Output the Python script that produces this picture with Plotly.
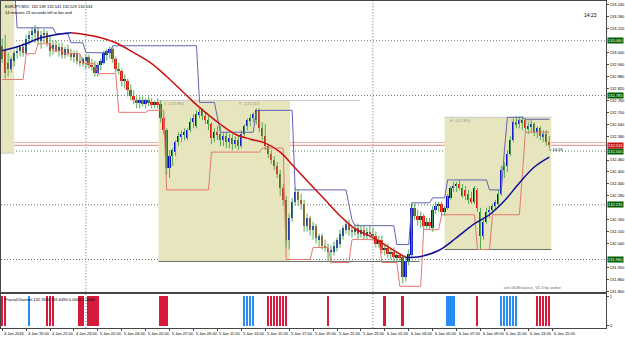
import plotly.graph_objects as go

# ---------------- data ----------------
title_line1 = "EURJPY,M15  132.539 132.541 132.529 132.534"
title_line2 = "14 minutes 23 seconds left to bar end"
timer_text = "14:23"
ea_text = "ant-GUBreakout_V2.4 by andee"
sub_label = "FractalChannel 132.7600 131.6490 0.0000 1.0000"

opens = [133.035, 133.01, 132.95, 132.92, 132.96, 133.00, 133.01, 133.03, 133.00, 133.07,
         133.09, 133.10, 133.11, 133.06, 133.09, 133.10, 133.05, 133.02, 133.04, 133.01,
         133.03, 132.99, 133.02, 133.00, 132.98, 133.00, 132.96, 132.95, 132.96, 132.98,
         132.94, 132.93, 132.90, 132.94, 132.95, 132.99, 133.00, 133.02, 132.97, 132.92,
         132.91, 132.86, 132.86, 132.81, 132.78, 132.76, 132.75, 132.76, 132.74, 132.76,
         132.75, 132.74, 132.75, 132.74, 132.67, 132.61, 132.42, 132.48, 132.50, 132.55,
         132.58, 132.59, 132.57, 132.61, 132.65, 132.63, 132.69, 132.71, 132.68, 132.66,
         132.64, 132.57, 132.60, 132.59, 132.56, 132.58, 132.55, 132.57, 132.54, 132.56,
         132.53, 132.59, 132.63, 132.66, 132.67, 132.66, 132.71, 132.62, 132.58, 132.53,
         132.49, 132.46, 132.43, 132.39, 132.32, 132.26, 132.06, 132.17, 132.25, 132.30,
         132.26, 132.24, 132.13, 132.17, 132.11, 132.13, 132.06, 132.08, 132.03, 132.02,
         132.00, 132.00, 132.02, 132.04, 132.08, 132.11, 132.14, 132.11, 132.10, 132.12,
         132.09, 132.11, 132.08, 132.10, 132.09, 132.08, 132.04, 132.06, 132.01, 132.02,
         131.99, 132.00, 131.97, 131.98, 131.97, 131.87, 131.95, 131.98, 132.22, 132.18,
         132.16, 132.18, 132.13, 132.15, 132.12, 132.21, 132.23, 132.24, 132.20, 132.22,
         132.27, 132.32, 132.33, 132.34, 132.32, 132.31, 132.29, 132.27, 132.25, 132.31,
         132.20, 132.08, 132.15, 132.20, 132.21, 132.23, 132.24, 132.29, 132.41, 132.43,
         132.49, 132.56, 132.65, 132.64, 132.65, 132.66, 132.62, 132.63, 132.64, 132.60,
         132.62, 132.58, 132.59, 132.55]
highs = [133.07, 133.09, 133.00, 132.98, 133.01, 133.03, 133.04, 133.05, 133.09, 133.11,
         133.13, 133.14, 133.13, 133.11, 133.12, 133.11, 133.09, 133.06, 133.06, 133.05,
         133.05, 133.03, 133.04, 133.02, 133.01, 133.01, 132.99, 132.98, 132.99, 132.99,
         132.97, 132.96, 132.95, 132.97, 133.01, 133.02, 133.03, 133.03, 132.98, 132.95,
         132.92, 132.89, 132.87, 132.84, 132.81, 132.78, 132.78, 132.78, 132.77, 132.78,
         132.77, 132.76, 132.77, 132.76, 132.70, 132.62, 132.51, 132.52, 132.56, 132.60,
         132.61, 132.62, 132.62, 132.67, 132.69, 132.71, 132.72, 132.72, 132.70, 132.68,
         132.65, 132.62, 132.63, 132.63, 132.60, 132.60, 132.59, 132.59, 132.58, 132.58,
         132.61, 132.64, 132.67, 132.69, 132.70, 132.72, 132.72, 132.65, 132.64, 132.54,
         132.51, 132.48, 132.45, 132.41, 132.34, 132.28, 132.19, 132.27, 132.32, 132.31,
         132.29, 132.26, 132.19, 132.18, 132.15, 132.14, 132.09, 132.09, 132.06, 132.04,
         132.03, 132.05, 132.07, 132.11, 132.13, 132.16, 132.16, 132.13, 132.14, 132.14,
         132.13, 132.13, 132.12, 132.13, 132.12, 132.10, 132.08, 132.08, 132.04, 132.04,
         132.02, 132.02, 132.00, 131.99, 131.98, 131.98, 132.01, 132.24, 132.24, 132.21,
         132.20, 132.19, 132.17, 132.17, 132.23, 132.25, 132.25, 132.25, 132.23, 132.29,
         132.33, 132.35, 132.35, 132.36, 132.34, 132.33, 132.31, 132.30, 132.33, 132.32,
         132.22, 132.16, 132.22, 132.23, 132.24, 132.26, 132.31, 132.43, 132.45, 132.51,
         132.58, 132.67, 132.68, 132.68, 132.68, 132.67, 132.65, 132.66, 132.65, 132.63,
         132.63, 132.61, 132.61, 132.58]
lows = [132.95, 132.87, 132.88, 132.90, 132.93, 132.97, 132.98, 132.98, 132.99, 133.04,
        133.06, 133.05, 133.04, 133.02, 133.05, 133.03, 132.98, 132.99, 133.00, 132.98,
        132.97, 132.97, 132.98, 132.96, 132.95, 132.94, 132.93, 132.93, 132.92, 132.92,
        132.91, 132.88, 132.88, 132.91, 132.94, 132.96, 132.97, 132.95, 132.90, 132.89,
        132.83, 132.82, 132.78, 132.76, 132.74, 132.72, 132.72, 132.73, 132.72, 132.73,
        132.72, 132.72, 132.72, 132.65, 132.59, 132.385, 132.37, 132.43, 132.48, 132.53,
        132.55, 132.56, 132.56, 132.60, 132.62, 132.62, 132.67, 132.66, 132.64, 132.61,
        132.54, 132.55, 132.56, 132.53, 132.53, 132.52, 132.52, 132.51, 132.52, 132.51,
        132.52, 132.58, 132.61, 132.63, 132.65, 132.64, 132.60, 132.56, 132.51, 132.47,
        132.44, 132.41, 132.37, 132.28, 132.23, 132.02, 132.01, 132.15, 132.23, 132.23,
        132.21, 132.10, 132.10, 132.08, 132.06, 132.04, 132.02, 132.01, 132.00, 131.95,
        131.94, 131.98, 132.00, 132.02, 132.06, 132.09, 132.08, 132.07, 132.08, 132.06,
        132.07, 132.06, 132.06, 132.07, 132.06, 132.02, 132.02, 131.99, 131.98, 131.97,
        131.96, 131.95, 131.94, 131.95, 131.84, 131.85, 131.93, 131.97, 132.16, 132.13,
        132.12, 132.11, 132.11, 132.11, 132.10, 132.19, 132.20, 132.18, 132.18, 132.21,
        132.26, 132.30, 132.30, 132.31, 132.27, 132.26, 132.24, 132.24, 132.24, 132.20,
        132.01, 132.06, 132.14, 132.17, 132.19, 132.21, 132.23, 132.28, 132.37, 132.40,
        132.48, 132.55, 132.62, 132.62, 132.61, 132.60, 132.59, 132.60, 132.58, 132.57,
        132.56, 132.55, 132.53, 132.52]
closes = [132.97, 132.90, 132.92, 132.97, 133.00, 133.01, 133.03, 133.00, 133.07, 133.09,
          133.11, 133.12, 133.06, 133.09, 133.10, 133.05, 133.01, 133.04, 133.01, 133.03,
          132.99, 133.02, 133.00, 132.98, 133.00, 132.96, 132.95, 132.97, 132.98, 132.94,
          132.93, 132.90, 132.94, 132.96, 133.00, 133.01, 133.02, 132.97, 132.92, 132.91,
          132.86, 132.87, 132.81, 132.78, 132.76, 132.75, 132.76, 132.74, 132.76, 132.75,
          132.74, 132.75, 132.74, 132.67, 132.61, 132.42, 132.48, 132.51, 132.55, 132.58,
          132.59, 132.60, 132.61, 132.65, 132.67, 132.69, 132.70, 132.68, 132.66, 132.64,
          132.57, 132.60, 132.59, 132.56, 132.58, 132.55, 132.57, 132.54, 132.56, 132.53,
          132.59, 132.63, 132.66, 132.67, 132.69, 132.71, 132.62, 132.58, 132.53, 132.49,
          132.46, 132.43, 132.39, 132.32, 132.26, 132.06, 132.17, 132.25, 132.30, 132.26,
          132.24, 132.13, 132.17, 132.11, 132.13, 132.07, 132.08, 132.03, 132.02, 132.00,
          132.01, 132.03, 132.06, 132.09, 132.12, 132.14, 132.11, 132.10, 132.12, 132.09,
          132.11, 132.08, 132.10, 132.09, 132.08, 132.04, 132.06, 132.01, 132.02, 131.99,
          132.00, 131.97, 131.98, 131.97, 131.87, 131.95, 131.99, 132.22, 132.18, 132.16,
          132.18, 132.13, 132.15, 132.13, 132.21, 132.23, 132.24, 132.20, 132.22, 132.28,
          132.32, 132.33, 132.34, 132.32, 132.28, 132.28, 132.26, 132.25, 132.32, 132.22,
          132.08, 132.15, 132.20, 132.21, 132.23, 132.25, 132.29, 132.41, 132.43, 132.49,
          132.56, 132.65, 132.64, 132.66, 132.66, 132.62, 132.63, 132.64, 132.60, 132.62,
          132.58, 132.59, 132.55, 132.534]

# x-axis labels (every 8 bars of M15 = 2 hours)
xlabel_bars = [0, 8, 16, 24, 32, 40, 48, 56, 64, 72, 80, 88, 96, 104, 112, 120,
               128, 136, 144, 152, 160, 168, 176, 184]
xlabels = ["4 Jan 2016", "4 Jan 19:00", "4 Jan 21:00", "4 Jan 23:00", "5 Jan 01:00",
           "5 Jan 03:00", "5 Jan 05:00", "5 Jan 07:00", "5 Jan 09:00", "5 Jan 11:00",
           "5 Jan 13:00", "5 Jan 15:00", "5 Jan 17:00", "5 Jan 19:00", "5 Jan 21:00",
           "5 Jan 23:00", "6 Jan 01:00", "6 Jan 03:00", "6 Jan 05:00", "6 Jan 07:00",
           "6 Jan 09:00", "6 Jan 11:00", "6 Jan 13:00", "6 Jan 15:00"]
day_separator_bars = [28, 124]

# price-axis labels
price_ticks = [133.24, 133.18, 133.12, 133.00, 132.94, 132.88, 132.82, 132.76, 132.70,
               132.64, 132.58, 132.46, 132.40, 132.34, 132.28, 132.16, 132.10, 132.04,
               131.92, 131.86, 131.80]

# moving average, coloured by slope
ma_up1_bars = [0, 4, 8, 12, 16, 20, 23]
ma_up1_vals = [133.01, 133.025, 133.045, 133.07, 133.085, 133.095, 133.10]
ma_down_bars = [23, 28, 33, 38, 44, 50, 55, 61, 66, 73, 78, 83, 88, 93, 98, 103, 108,
                113, 118, 124, 130, 135]
ma_down_vals = [133.10, 133.09, 133.075, 133.05, 133.00, 132.945, 132.88, 132.795,
                132.725, 132.64, 132.59, 132.565, 132.545, 132.50, 132.42, 132.34,
                132.26, 132.18, 132.115, 132.07, 132.015, 131.97]
ma_up2_bars = [135, 140, 146, 152, 158, 163, 168, 173, 178, 183]
ma_up2_vals = [131.97, 131.975, 132.005, 132.07, 132.14, 132.185, 132.255, 132.345,
               132.425, 132.475]

# fractal channel runs: (first bar, last bar, level)
upper_runs = [(0, 4, 133.36), (5, 17, 133.125), (18, 22, 133.095), (23, 27, 133.05),
              (28, 36, 133.00), (37, 65, 133.035), (66, 71, 132.75), (72, 72, 132.675),
              (73, 84, 132.60), (85, 97, 132.71), (98, 115, 132.31), (116, 116, 132.235),
              (117, 117, 132.16), (118, 131, 132.13), (132, 136, 132.035),
              (137, 143, 132.245), (144, 148, 132.27), (149, 162, 132.36),
              (163, 167, 132.31), (168, 168, 132.51), (169, 174, 132.675),
              (175, 183, 132.665)]
lower_runs = [(0, 7, 132.865), (8, 11, 132.995), (12, 16, 133.045), (17, 20, 133.01),
              (21, 26, 132.995), (27, 31, 132.945), (32, 38, 132.895), (39, 48, 132.70),
              (49, 54, 132.71), (55, 69, 132.31), (70, 86, 132.50), (87, 94, 132.52),
              (95, 103, 131.96), (104, 109, 132.02), (110, 116, 131.945),
              (117, 126, 132.06), (127, 132, 131.945), (133, 140, 131.825),
              (141, 146, 132.11), (147, 158, 132.185), (159, 163, 132.01),
              (164, 173, 132.185), (174, 174, 132.385), (175, 183, 132.60)]

# breakout boxes
box_first = [-0.4, 52.3, 148.0]
box_last = [4.0, 96.3, 183.7]
box_high = [133.30, 132.76, 132.675]
box_low = [132.495, 131.95, 132.01]
box_top_ext = [24.7, 119.7, 183.7]
box_bot_ext = [4.0, 139.7, 183.7]
box_labels = [("", ""), ("1 : (132.980)", "R : (132.413)"), ("H : (132.895)", "L : (132.570)")]

pivot_levels = [133.06, 132.785, 132.505, 132.235, 131.96]
bid_price = 132.534
ask_price = 132.548

# lower sub-window signals
red_signal_bars = [0, 1, 15, 16, 17, 26, 27, 29, 30, 31, 32, 53, 54, 55, 89, 90, 91, 92,
                   93, 94, 95, 109, 128, 134, 159, 179, 180, 181, 182, 183]
blue_signal_bars = [9, 81, 82, 83, 84, 149, 150, 151, 167, 168, 169, 170, 171, 172]

# ---------------- figure ----------------
W, H = 625, 340
XDOM = 607 / W
main_dom = [1 - 293 / H, 1]
sub_dom = [1 - 329 / H, 1 - 295 / H]
XR = [-0.4, 202]
YR = [131.795, 133.26]
FONT = "Liberation Sans"

BULL = "rgb(10,10,215)"
BEAR = "rgb(235,20,20)"
WICK = "rgb(80,170,80)"

fig = go.Figure()

n = len(closes)
bars = list(range(n))

# wicks
wx, wy = [], []
for i in bars:
    wx += [i, i, None]
    wy += [lows[i], highs[i], None]
fig.add_trace(go.Scatter(x=wx, y=wy, mode="lines", line=dict(color=WICK, width=1),
                         hoverinfo="skip", showlegend=False, xaxis="x", yaxis="y"))

# bodies
body_base = [min(o, c) for o, c in zip(opens, closes)]
body_h = [max(abs(c - o), 0.004) for o, c in zip(opens, closes)]
body_col = [BULL if c >= o else BEAR for o, c in zip(opens, closes)]
fig.add_trace(go.Bar(x=bars, y=body_h, base=body_base, width=0.6,
                     marker=dict(color=body_col, line=dict(width=0)),
                     showlegend=False, xaxis="x", yaxis="y"))

# channels
def runs_to_xy(runs):
    xs, ys = [], []
    for a, b, v in runs:
        xs += [a, b]
        ys += [v, v]
    return xs, ys

ux, uy = runs_to_xy(upper_runs)
lx, ly = runs_to_xy(lower_runs)
fig.add_trace(go.Scatter(x=ux, y=uy, mode="lines", line=dict(color="rgb(100,100,180)", width=1),
                         showlegend=False, xaxis="x", yaxis="y"))
fig.add_trace(go.Scatter(x=lx, y=ly, mode="lines", line=dict(color="rgb(228,120,110)", width=1),
                         showlegend=False, xaxis="x", yaxis="y"))

# moving average
for bx, vals, col in [(ma_up1_bars, ma_up1_vals, "rgb(15,15,150)"),
                      (ma_down_bars, ma_down_vals, "rgb(205,15,15)"),
                      (ma_up2_bars, ma_up2_vals, "rgb(15,15,150)")]:
    fig.add_trace(go.Scatter(x=bx, y=vals, mode="lines", line=dict(color=col, width=1.5, shape="spline"),
                             showlegend=False, xaxis="x", yaxis="y"))

# sub-window histogram
fig.add_trace(go.Bar(x=red_signal_bars, y=[1] * len(red_signal_bars), width=0.62,
                     marker=dict(color="rgb(215,25,60)", line=dict(width=0)),
                     showlegend=False, xaxis="x2", yaxis="y2"))
fig.add_trace(go.Bar(x=blue_signal_bars, y=[1] * len(blue_signal_bars), width=0.62,
                     marker=dict(color="rgb(40,140,240)", line=dict(width=0)),
                     showlegend=False, xaxis="x2", yaxis="y2"))

DOT = "1px,2px"
shapes = []
BEIGE = "rgb(231,229,190)"
for k in range(len(box_first)):
    shapes.append(dict(type="rect", xref="x", yref="y", x0=box_first[k], x1=box_last[k],
                       y0=box_low[k], y1=box_high[k], fillcolor=BEIGE, line=dict(width=0),
                       layer="below"))
    shapes.append(dict(type="line", xref="x", yref="y", x0=box_first[k], x1=box_top_ext[k],
                       y0=box_high[k], y1=box_high[k], line=dict(color="rgb(200,200,200)", width=1),
                       layer="below"))
    shapes.append(dict(type="line", xref="x", yref="y", x0=box_first[k], x1=box_bot_ext[k],
                       y0=box_low[k], y1=box_low[k],
                       line=dict(color="rgb(110,110,110)" if k else "rgb(200,200,200)", width=1),
                       layer="below"))
for lv in pivot_levels:
    shapes.append(dict(type="line", xref="paper", yref="y", x0=0, x1=XDOM, y0=lv, y1=lv,
                       line=dict(color="rgb(90,125,90)", width=1, dash=DOT), layer="below"))
for sb in day_separator_bars:
    for ya in ["y", "y2"]:
        shapes.append(dict(type="line", xref="x", yref=ya + " domain", x0=sb, x1=sb, y0=0, y1=1,
                           line=dict(color="rgb(110,110,110)", width=1, dash=DOT), layer="below"))
for pr, col in [(ask_price, "rgb(242,175,175)"), (bid_price, "rgb(235,140,140)")]:
    shapes.append(dict(type="line", xref="paper", yref="y", x0=0, x1=XDOM, y0=pr, y1=pr,
                       line=dict(color=col, width=1), layer="below"))

ann = []
small = dict(family=FONT, size=4, color="black")
ann.append(dict(xref="paper", yref="paper", x=0.004, y=1 - 1 / H, text=title_line1,
                showarrow=False, xanchor="left", yanchor="top", font=small))
ann.append(dict(xref="paper", yref="paper", x=0.004, y=1 - 7 / H, text=title_line2,
                showarrow=False, xanchor="left", yanchor="top", font=small))
ann.append(dict(xref="paper", yref="paper", x=600 / W, y=1 - 9 / H, text=timer_text,
                showarrow=False, xanchor="right", yanchor="top", font=dict(family=FONT, size=5, color="black")))
ann.append(dict(xref="x", yref="y", x=182.3, y=bid_price, text="&lt; " + timer_text,
                showarrow=False, xanchor="left", yanchor="top", font=small))
ann.append(dict(xref="paper", yref="paper", x=565 / W, y=1 - 284 / H, text=ea_text,
                showarrow=False, xanchor="right", yanchor="top",
                font=dict(family=FONT, size=4, color="rgb(110,110,110)")))
ann.append(dict(xref="paper", yref="paper", x=0.004, y=1 - 296 / H, text=sub_label,
                showarrow=False, xanchor="left", yanchor="top", font=small))
for k in range(1, len(box_first)):
    ann.append(dict(xref="x", yref="y", x=box_first[k] + 1, y=box_high[k], text=box_labels[k][0],
                    showarrow=False, xanchor="left", yanchor="top",
                    font=dict(family=FONT, size=3.5, color="rgb(150,150,150)")))
    ann.append(dict(xref="x", yref="y", x=box_first[k] + (box_last[k] - box_first[k]) * 0.6,
                    y=box_high[k], text=box_labels[k][1], showarrow=False, xanchor="left",
                    yanchor="top", font=dict(family=FONT, size=3.5, color="rgb(150,150,150)")))
for b, t in zip(xlabel_bars, xlabels):
    ann.append(dict(xref="x2", yref="paper", x=b, y=1 - 330 / H, text=t, showarrow=False,
                    xanchor="left", yanchor="top", font=small))
for lv in pivot_levels:
    ann.append(dict(xref="paper", yref="y", x=XDOM + 0.002, y=lv, text=f"{lv:.3f}",
                    showarrow=False, xanchor="left", yanchor="middle", bgcolor="rgb(0,95,0)",
                    borderpad=0, font=dict(family=FONT, size=4, color="white")))
ann.append(dict(xref="paper", yref="y", x=XDOM + 0.002, y=bid_price, text=f"{bid_price:.3f}",
                showarrow=False, xanchor="left", yanchor="middle", bgcolor="rgb(200,20,20)",
                borderpad=0, font=dict(family=FONT, size=4, color="white")))

axis_line = "rgb(70,70,70)"
fig.update_layout(
    width=W, height=H, margin=dict(l=0, r=0, t=0, b=0),
    paper_bgcolor="white", plot_bgcolor="white", barmode="overlay", bargap=0,
    font=dict(family=FONT, size=4, color="black"),
    shapes=shapes, annotations=ann, showlegend=False,
    xaxis=dict(domain=[0, XDOM], range=XR, anchor="y", showticklabels=False, showgrid=False,
               zeroline=False, showline=True, linecolor=axis_line, mirror=True,
               rangeslider=dict(visible=False), fixedrange=True),
    xaxis2=dict(domain=[0, XDOM], range=XR, anchor="y2", showgrid=False, zeroline=False,
                showline=True, linecolor=axis_line, mirror=True, tickvals=xlabel_bars,
                ticks="outside", ticklen=2, tickcolor=axis_line, showticklabels=False),
    yaxis=dict(domain=main_dom, range=YR, side="right", anchor="x", showgrid=False,
               zeroline=False, showline=True, linecolor=axis_line, mirror=True,
               tickvals=price_ticks, tickformat=".3f", ticks="outside", ticklen=2,
               tickcolor=axis_line, tickfont=dict(family=FONT, size=4)),
    yaxis2=dict(domain=sub_dom, range=[-0.07, 1.07], side="right", anchor="x2", showgrid=False,
                zeroline=False, showline=True, linecolor=axis_line, mirror=True,
                tickvals=[1, 0], ticktext=["1", "0"], ticks="outside", ticklen=2,
                tickcolor=axis_line, tickfont=dict(family=FONT, size=4)),
)

fig.write_html("out.html")
